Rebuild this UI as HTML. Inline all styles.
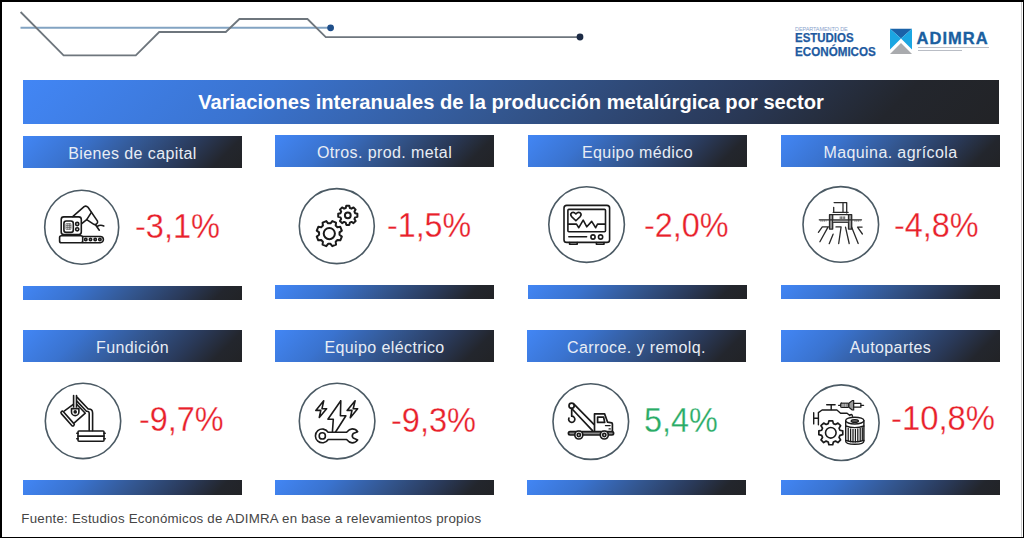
<!DOCTYPE html>
<html><head><meta charset="utf-8">
<style>
*{margin:0;padding:0;box-sizing:border-box}
html,body{width:1024px;height:538px;overflow:hidden;background:#fff}
body{position:relative;font-family:"Liberation Sans",sans-serif}
.a{position:absolute}
.bd{position:absolute;background:#000}
.grad{background:linear-gradient(135deg,#4286f5 0%,#3a73cf 25%,#33568f 50%,#2a3a5a 72%,#23262d 88%,#222326 100%)}
.hd{position:absolute;width:219px;height:32px;padding-top:2px;color:#e8edf5;font-size:16px;letter-spacing:0.4px;line-height:32px;text-align:center;white-space:nowrap}
.bar{position:absolute;width:219px;height:14.5px}
.pct{position:absolute;font-size:35.5px;line-height:35.5px;white-space:nowrap;color:#e8202a;transform-origin:0 0;-webkit-text-stroke:0.3px #fff}
.ic{position:absolute;width:80px;height:80px;overflow:visible}
</style></head><body>
<!-- borders -->
<div class="bd" style="left:0;top:0;width:1024px;height:2px"></div>
<div class="bd" style="left:0;top:0;width:2px;height:538px"></div>
<div class="bd" style="left:1023px;top:0;width:1px;height:538px"></div>
<div class="bd" style="left:0;top:537px;width:1024px;height:1px"></div>
<div class="a" style="left:1021px;top:2px;width:1px;height:535px;background:#c8c8c8"></div>

<!-- top decorative lines -->
<svg class="a" style="left:0;top:0" width="600" height="70" viewBox="0 0 600 70">
<line x1="20.5" y1="27.8" x2="330.6" y2="27.8" stroke="#82a3c2" stroke-width="2"/>
<polyline points="20.6,12 63.6,55.3 135.8,55.3 159.2,32 225.8,32 239.4,19 307.5,19 325.8,37.2 580,37.2" fill="none" stroke="#6e767d" stroke-width="1.8" stroke-linejoin="miter"/>
<circle cx="330.6" cy="27.8" r="3.4" fill="#1f4f8a"/>
<circle cx="580" cy="37" r="3.4" fill="#1c2b45"/>
</svg>

<!-- logo -->
<div class="a" style="left:795px;top:26px;font-size:5.8px;color:#8aa4cc;white-space:nowrap;letter-spacing:-0.1px;transform:scaleX(0.95);transform-origin:0 0">DEPARTAMENTO DE</div>
<div class="a" style="left:794.6px;top:32.4px;font-size:12px;font-weight:bold;color:#1e5aa0;line-height:12px;white-space:nowrap;-webkit-text-stroke:0.25px #1e5aa0;transform:scaleX(0.955);transform-origin:0 0">ESTUDIOS</div>
<div class="a" style="left:794.6px;top:45.8px;font-size:12px;font-weight:bold;color:#1e5aa0;line-height:12px;white-space:nowrap;-webkit-text-stroke:0.25px #1e5aa0;transform:scaleX(0.97);transform-origin:0 0">ECONÓMICOS</div>
<svg class="a" style="left:889px;top:28px" width="24" height="27" viewBox="0 0 24 27">
<polygon points="1,0.7 23,0.7 12,10.6" fill="#1a62a8"/>
<polygon points="1,0.7 12,10.6 1,21.5" fill="#1ba6e2"/>
<polygon points="23,0.7 12,10.6 23,21.5" fill="#1ba6e2"/>
<polygon points="12,15 23,26 1,26" fill="#a9abae"/>
</svg>
<div class="a" style="left:916.5px;top:30px;font-size:16.5px;font-weight:bold;color:#1a5fa0;line-height:17px;white-space:nowrap;letter-spacing:1.05px;-webkit-text-stroke:0.35px #1a5fa0">ADIMRA</div>
<div class="a" style="left:917.5px;top:46.7px;width:71px;height:1.7px;background:#b9bdc5"></div>
<div class="a" style="left:917.5px;top:49.5px;width:44px;height:1.7px;background:#b9bdc5"></div>

<!-- title banner -->
<div class="a grad" style="left:23px;top:80px;width:976px;height:43.5px"></div>
<div class="a" style="left:23px;top:80px;width:976px;height:43.5px;color:#fff;font-weight:bold;font-size:20.15px;line-height:44.5px;text-align:center;white-space:nowrap">Variaciones interanuales de la producción metalúrgica por sector</div>

<!-- headers row 1 -->
<div class="hd grad" style="left:23px;top:136px;height:32.2px">Bienes de capital</div>
<div class="hd grad" style="left:275px;top:135.1px;height:31.7px">Otros. prod. metal</div>
<div class="hd grad" style="left:528px;top:135.1px;height:31.7px">Equipo médico</div>
<div class="hd grad" style="left:781px;top:135.1px;height:31.7px">Maquina. agrícola</div>
<!-- headers row 2 -->
<div class="hd grad" style="left:23px;top:330px">Fundición</div>
<div class="hd grad" style="left:275px;top:330px">Equipo eléctrico</div>
<div class="hd grad" style="left:527px;top:330px">Carroce. y remolq.</div>
<div class="hd grad" style="left:781px;top:330px">Autopartes</div>

<!-- bars -->
<div class="bar grad" style="left:23px;top:286.4px;height:14px"></div>
<div class="bar grad" style="left:275px;top:285.1px;height:14px"></div>
<div class="bar grad" style="left:528px;top:285.1px;height:14px"></div>
<div class="bar grad" style="left:781px;top:285.1px;height:14px"></div>
<div class="bar grad" style="left:23px;top:480.2px"></div>
<div class="bar grad" style="left:275px;top:480.2px"></div>
<div class="bar grad" style="left:527px;top:480.2px"></div>
<div class="bar grad" style="left:781px;top:480.2px"></div>

<!-- circles -->
<svg class="a" style="left:0;top:0" width="1024" height="538" viewBox="0 0 1024 538" fill="none" stroke="#4b5a64" stroke-width="1.6">
<circle cx="81.7" cy="227.2" r="37"/>
<circle cx="336.8" cy="226.1" r="37.5"/>
<circle cx="586.6" cy="224.6" r="37.8"/>
<circle cx="840.8" cy="224.4" r="37.8"/>
<circle cx="83" cy="420.9" r="37.7"/>
<circle cx="337.1" cy="421.1" r="37.8"/>
<circle cx="590.8" cy="421.6" r="37.8"/>
<circle cx="841.3" cy="422.7" r="37.8"/>
</svg>

<!-- icons -->
<svg class="a" style="left:0;top:0" width="1024" height="538" viewBox="0 0 1024 538">
<g transform="translate(0.5,0.9)" stroke="#1a1a1a" stroke-width="1.6" fill="none" stroke-linejoin="round" stroke-linecap="round">
<rect x="60.7" y="216" width="20.1" height="17.6" rx="2.6"/>
<rect x="63.4" y="220.1" width="9.4" height="11.4" rx="2.4"/>
<path stroke-width="0.7" stroke="#555" d="M65.8,222.8 H70.4 V228.4 H65.8 Z M67.3,222.8 V228.4 M68.9,222.8 V228.4 M65.8,224.7 H70.4 M65.8,226.5 H70.4"/>
<circle cx="76.7" cy="223.1" r="1.6"/><circle cx="76.7" cy="228.4" r="1.6"/>
<rect x="59.1" y="234.8" width="23.1" height="7" rx="1.8"/>
<path d="M82.2,235.6 H99.8 A3.1,3.1 0 0 1 99.8,241.8 H82.2"/>
<circle cx="85.3" cy="238.7" r="1.2"/>
<circle cx="90" cy="238.7" r="1.2"/>
<circle cx="94.7" cy="238.7" r="1.2"/>
<circle cx="99.4" cy="238.7" r="1.2"/>
<path d="M72.2,215.7 L83.6,205.8 Q85.6,204.3 87.5,206.4 L97,220.2 Q97.6,222.2 95.9,223.3 Q94.5,224.2 93,223.2 L86.2,218.7 L81.2,222.8"/>
<path d="M86.2,218.7 L90.9,211.5"/>
<path d="M94.8,223.6 L98.8,229.3 M96.6,225.6 Q99.6,223.4 103.3,225"/>
</g>
<g stroke="#1a1a1a" stroke-width="2.0" fill="none" stroke-linejoin="round" stroke-linecap="round">
<path d="M330.51,223.37 L332.31,221.06 L336.04,222.60 L335.68,225.51 L337.39,227.22 L340.30,226.86 L341.84,230.59 L339.53,232.39 L339.53,234.81 L341.84,236.61 L340.30,240.34 L337.39,239.98 L335.68,241.69 L336.04,244.60 L332.31,246.14 L330.51,243.83 L328.09,243.83 L326.29,246.14 L322.56,244.60 L322.92,241.69 L321.21,239.98 L318.30,240.34 L316.76,236.61 L319.07,234.81 L319.07,232.39 L316.76,230.59 L318.30,226.86 L321.21,227.22 L322.92,225.51 L322.56,222.60 L326.29,221.06 L328.09,223.37 Z"/>
<circle cx="329.3" cy="233.6" r="5.6"/>
<path d="M345.74,207.99 L346.28,205.72 L349.32,205.72 L349.86,207.99 L351.51,208.67 L353.50,207.45 L355.65,209.60 L354.43,211.59 L355.11,213.24 L357.38,213.78 L357.38,216.82 L355.11,217.36 L354.43,219.01 L355.65,221.00 L353.50,223.15 L351.51,221.93 L349.86,222.61 L349.32,224.88 L346.28,224.88 L345.74,222.61 L344.09,221.93 L342.10,223.15 L339.95,221.00 L341.17,219.01 L340.49,217.36 L338.22,216.82 L338.22,213.78 L340.49,213.24 L341.17,211.59 L339.95,209.60 L342.10,207.45 L344.09,208.67 Z"/>
<circle cx="347.8" cy="215.3" r="2.9"/>
</g>
<g stroke="#1a1a1a" stroke-width="1.6" fill="none" stroke-linejoin="round" stroke-linecap="round">
<rect x="564" y="205.4" width="45.6" height="37" rx="2.7"/>
<rect x="567.9" y="209.4" width="37.6" height="22.3" rx="1"/>
<path d="M568.5,224.1 H576.5 L578.8,227.7 L583.2,220.1 L586.8,226.8 L591.7,221.4 L595.7,227.7 L597.5,224.1 H605.1"/>
<path d="M575.9,220.8 L571.6,216.6 Q569.8,214.2 571.6,212.8 Q573.8,211.5 575.9,214 Q578,211.5 580.2,212.8 Q582,214.2 580.2,216.6 Z"/>
<path stroke-width="1.5" d="M568.8,236.8 H586.6"/>
<circle cx="593" cy="237" r="2.1"/><circle cx="600.6" cy="237" r="2.1"/>
<path d="M569.6,242.6 V244.3 H577.2 V242.6 M596.4,242.6 V244.3 H604 V242.6"/>
</g>
<g stroke="#2a2a2a" stroke-width="1.3" fill="none" stroke-linejoin="round" stroke-linecap="round">
<path d="M834.1,202.6 H846.7 V212.9 M843,203.1 V211.9 M833.7,207.3 V212.2 M833.2,212.4 H848.1"/>
<rect x="829.5" y="214.7" width="3.2" height="14.4" fill="#9a9a9a"/>
<rect x="848.5" y="214.7" width="3.2" height="14.4" fill="#9a9a9a"/>
<path d="M832.7,214.7 H848.5 M832.7,222.3 H848.5"/>
<rect x="833" y="220.2" width="15.3" height="2" fill="#9a9a9a" stroke="none"/>
<path d="M819.3,219.8 H861.5"/>
<path stroke-width="1.2" stroke-dasharray="0.9 1" stroke-linecap="butt" d="M820.5,221 H826.5 M854.5,221 H860.5"/>
<path stroke-width="0.8" d="M840.2,216.8 V218.6 M841.7,216.8 V218.6 M843.2,216.8 V218.6 M844.7,216.8 V218.6"/>
<path d="M818.4,232.3 L822.3,226.9 H828.7 M819.9,241.8 L827.7,227.6 M829.2,243.7 L833.1,234.2 M836,226.9 H841.1 L838.7,243.5 M845.5,227.1 L849.2,243.5 M851.6,226.9 L858.2,243.5 M857.5,227.1 H862.1 M857.7,227.4 L862.4,234"/>
</g>
<g stroke="#1a1a1a" stroke-width="1.6" fill="none" stroke-linejoin="round" stroke-linecap="round">
<path d="M73.6,395.6 V407 M76.5,395.6 V407"/>
<path d="M71.5,408.6 H78.9 V411.9 A3.7,3.7 0 0 1 71.5,411.9 Z"/>
<circle cx="75.2" cy="411.9" r="1" fill="#1e1e1e"/>
<path d="M64.5,410.9 L73.3,404.4 M77.2,404.7 L85.3,413.2 L74.3,422.9"/>
<rect x="-9.3" y="-1.4" width="18.6" height="2.8" rx="1.4" transform="translate(67.6,418.6) rotate(48.6)"/>
<path d="M77.2,397.4 L88.2,409 Q92.6,408.6 92.6,413 V430.6 M77.1,401.4 L86.4,411.2 Q89.2,411 89.2,413.5 V430.6"/>
<rect x="78" y="431" width="26" height="10.2" rx="1"/>
<path d="M78,436.1 H104"/>
<path d="M76.8,433.3 H78 M104,433.3 H105.2 M76.8,438.8 H78 M104,438.8 H105.2"/>
</g>
<g stroke="#1a1a1a" stroke-width="1.6" fill="none" stroke-linejoin="round" stroke-linecap="round">
<path d="M323.7,400.8 L315.8,410.4 H320.8 L319.3,417.5 L326.6,408.7 H322 Z"/>
<path d="M355.1,400.8 L347.1,410.4 H352 L350.3,417.8 L357.6,408.7 H353.2 Z"/>
<path d="M340.8,400.8 L327.9,419.2 H333.3 L332.4,432.2 M335.4,432.2 L345.9,415.8 H340.4 L340.8,400.8"/>
<path d="M328.2,432.3 H346.6 C348.5,430 350,428.9 352.1,428.9 C354.5,428.9 356.5,430 357.7,431.7 L353.2,433.4 Q351.3,435.9 353.2,438 L357.7,439.9 C356.5,441.6 354.5,442.9 352.1,442.9 C350,442.9 348.5,441.8 346.6,439.5 H328.2 A6.9,6.9 0 1 1 328.2,432.3 Z"/>
<circle cx="322.3" cy="435.9" r="3.1"/>
</g>
<g stroke="#1a1a1a" stroke-width="1.7" fill="none" stroke-linejoin="round" stroke-linecap="round">
<path d="M574.2,404.4 L593.9,424.3 M572.6,409.5 L592.5,430.6"/>
<circle cx="571.6" cy="405.7" r="2.6"/>
<path d="M571.7,408.4 V416.2 A3.1,3.1 0 1 1 568.9,418.1"/>
<path d="M594.5,431.2 V413.9 H604.6 L607.6,422.2 L611.8,422.8 Q612.4,423 612.4,424 V431.4"/>
<path d="M597.6,417.1 H603.6 L604.7,422.4 H597.6 Z"/>
<path stroke-width="1.1" d="M605.4,425.6 H610.2 M609,428.9 H610.4"/>
<rect x="568.4" y="431.7" width="45.2" height="3.3" rx="1.65" fill="#8a8a8a"/>
<circle cx="578.8" cy="435" r="4" fill="#fff"/><circle cx="578.8" cy="435" r="1.6"/>
<circle cx="604.3" cy="435" r="4" fill="#fff"/><circle cx="604.3" cy="435" r="1.6"/>
</g>
<g stroke="#1a1a1a" stroke-width="1.4" fill="none" stroke-linejoin="round" stroke-linecap="round">
<path stroke-width="1.2" d="M838.6,405.3 H840.4"/>
<rect x="840.6" y="403.1" width="8.2" height="4.4" rx="0.6" fill="#666" stroke-width="1"/>
<path stroke="#fff" stroke-width="0.6" stroke-linecap="butt" d="M842.2,403.8 V406.8 M843.8,403.8 V406.8 M845.4,403.8 V406.8 M847,403.8 V406.8"/>
<path stroke-width="1.1" d="M848.9,403.3 L852.2,400.6 H853.7 V410 H852.2 L848.9,407.3 Z" fill="#9a9a9a"/>
<rect x="853.7" y="403.4" width="7.2" height="3.8" stroke-width="1.2" fill="#fff"/>
<path stroke-width="1.3" d="M860.9,405.3 H863.6"/>
<path d="M826.7,404.8 H835.1 M831.2,404.8 V409.5"/>
<path d="M818.4,424.8 V412.6 L822.1,410 H836.9 L840.6,413.2 H847.1 L849.8,415.5 Q850.5,414 851.8,414.6 L852.6,416.3"/>
<path d="M813.7,412.7 V423.9 M813.7,418.3 H818.4"/>
<path stroke-width="1.7" d="M828.22,423.66 L828.91,420.85 L832.69,420.85 L833.38,423.66 L835.44,424.51 L837.91,423.01 L840.59,425.69 L839.09,428.16 L839.94,430.22 L842.75,430.91 L842.75,434.69 L839.94,435.38 L839.09,437.44 L840.59,439.91 L837.91,442.59 L835.44,441.09 L833.38,441.94 L832.69,444.75 L828.91,444.75 L828.22,441.94 L826.16,441.09 L823.69,442.59 L821.01,439.91 L822.51,437.44 L821.66,435.38 L818.85,434.69 L818.85,430.91 L821.66,430.22 L822.51,428.16 L821.01,425.69 L823.69,423.01 L826.16,424.51 Z"/>
<circle stroke-width="1.6" cx="830.8" cy="432.8" r="5.3"/>
<path d="M845.7,420.6 V441.3 Q845.7,444.3 854.8,444.3 Q863.9,444.3 863.9,441.3 V420.6" fill="#fff"/>
<ellipse cx="854.8" cy="420.6" rx="9.1" ry="3.4" fill="#fff"/>
<ellipse cx="854.8" cy="420.9" rx="3.6" ry="1.3" fill="#777"/>
<path d="M845.7,426 Q854.8,429.3 863.9,426 M845.7,440.4 Q854.8,443.4 863.9,440.4"/>
<path stroke-width="1.25" stroke-linecap="butt" d="M848.2,428 V441.5 M850.6,428.6 V442.2 M853,428.9 V442.6 M855.4,428.9 V442.6 M857.8,428.6 V442.2 M860.2,428 V441.5 M862.3,427.2 V441"/>
</g>
</svg>
<!-- /icons -->

<!-- percentages -->
<div class="pct" style="left:134.5px;top:209.4px;transform:scaleX(0.917)">-3,1%</div>
<div class="pct" style="left:386.8px;top:207.9px;transform:scaleX(0.908)">-1,5%</div>
<div class="pct" style="left:643.9px;top:208.2px;transform:scaleX(0.912)">-2,0%</div>
<div class="pct" style="left:894.3px;top:207.6px;transform:scaleX(0.913)">-4,8%</div>
<div class="pct" style="left:139.1px;top:402.3px;transform:scaleX(0.913)">-9,7%</div>
<div class="pct" style="left:390.5px;top:402.9px;transform:scaleX(0.917)">-9,3%</div>
<div class="pct" style="left:644.4px;top:403.4px;transform:scaleX(0.913);color:#2aab66">5,4%</div>
<div class="pct" style="left:891.4px;top:400.8px;transform:scaleX(0.925)">-10,8%</div>

<!-- footer -->
<div class="a m" style="left:21.3px;top:510.7px;font-size:13.3px;letter-spacing:0.23px;color:#454545;white-space:nowrap;line-height:15px">Fuente: Estudios Económicos de ADIMRA en base a relevamientos propios</div>
</body></html>
